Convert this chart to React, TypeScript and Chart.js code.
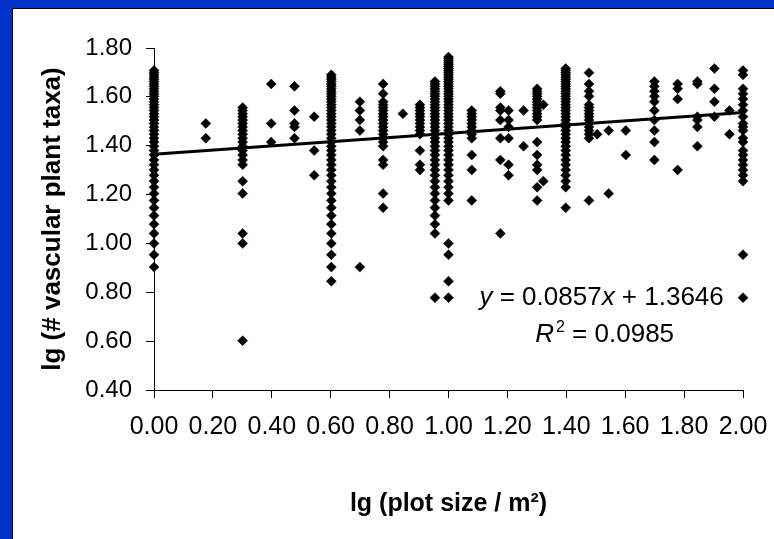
import React, { useEffect, useRef } from "react";
import { Chart, registerables } from "chart.js";

Chart.register(...registerables);

// lg(plot size / m²) of each sampled plot size (one column of points each)
const plotSizeLg = [
  0, 0.176, 0.301, 0.398, 0.477, 0.544, 0.602, 0.699, 0.778, 0.845,
  0.903, 0.954, 1.0, 1.079, 1.176, 1.204, 1.255, 1.301, 1.322, 1.398,
  1.477, 1.505, 1.544, 1.602, 1.699, 1.778, 1.845, 1.903, 1.954, 2.0,
];

// lg(# vascular plant taxa) values found in each column (same order as plotSizeLg)
const taxaLg = [
  [0.903, 0.954, 1.0, 1.041, 1.079, 1.114, 1.146, 1.176, 1.204, 1.23, 1.255, 1.279, 1.301, 1.322, 1.342, 1.362, 1.38, 1.398, 1.415, 1.431, 1.447, 1.462, 1.477, 1.491, 1.505, 1.519, 1.531, 1.544, 1.556, 1.568, 1.58, 1.591, 1.602, 1.613, 1.623, 1.633, 1.643, 1.653, 1.663, 1.672, 1.681, 1.69, 1.699, 1.708],
  [1.491, 1.431],
  [0.602, 1.0, 1.041, 1.204, 1.255, 1.322, 1.342, 1.362, 1.38, 1.398, 1.415, 1.431, 1.447, 1.462, 1.477, 1.491, 1.505, 1.519, 1.531, 1.544, 1.556],
  [1.653, 1.491, 1.415],
  [1.643, 1.544, 1.491, 1.477, 1.431],
  [1.519, 1.38, 1.279],
  [0.845, 0.903, 0.954, 1.0, 1.041, 1.079, 1.114, 1.146, 1.176, 1.204, 1.23, 1.255, 1.279, 1.301, 1.322, 1.342, 1.362, 1.38, 1.398, 1.415, 1.431, 1.447, 1.462, 1.477, 1.491, 1.505, 1.519, 1.531, 1.544, 1.556, 1.568, 1.58, 1.591, 1.602, 1.613, 1.623, 1.633, 1.643, 1.653, 1.663, 1.672, 1.681, 1.69],
  [1.58, 1.544, 1.505, 1.462, 0.903],
  [1.653, 1.613, 1.58, 1.568, 1.556, 1.544, 1.531, 1.519, 1.505, 1.491, 1.477, 1.462, 1.447, 1.431, 1.415, 1.398, 1.342, 1.322, 1.204, 1.146],
  [1.531],
  [1.568, 1.556, 1.544, 1.531, 1.519, 1.505, 1.491, 1.477, 1.462, 1.447, 1.38, 1.322, 1.301],
  [0.778, 1.041, 1.079, 1.114, 1.146, 1.176, 1.204, 1.23, 1.255, 1.279, 1.301, 1.322, 1.342, 1.362, 1.38, 1.398, 1.415, 1.431, 1.447, 1.462, 1.477, 1.491, 1.505, 1.519, 1.531, 1.544, 1.556, 1.568, 1.58, 1.591, 1.602, 1.613, 1.623, 1.633, 1.643, 1.653, 1.663],
  [0.778, 0.845, 0.954, 1.0, 1.176, 1.204, 1.23, 1.255, 1.279, 1.301, 1.322, 1.342, 1.362, 1.38, 1.398, 1.415, 1.431, 1.447, 1.462, 1.477, 1.491, 1.505, 1.519, 1.531, 1.544, 1.556, 1.568, 1.58, 1.591, 1.602, 1.613, 1.623, 1.633, 1.643, 1.653, 1.663, 1.672, 1.681, 1.69, 1.699, 1.708, 1.716, 1.724, 1.732, 1.74, 1.748, 1.756, 1.763],
  [1.544, 1.531, 1.519, 1.505, 1.491, 1.477, 1.462, 1.447, 1.431, 1.362, 1.301, 1.176],
  [1.623, 1.613, 1.556, 1.544, 1.505, 1.431, 1.342, 1.041],
  [1.544, 1.505, 1.477, 1.431, 1.322, 1.279],
  [1.544, 1.398],
  [1.633, 1.623, 1.613, 1.602, 1.591, 1.58, 1.568, 1.556, 1.544, 1.531, 1.519, 1.505, 1.415, 1.362, 1.322, 1.301, 1.23, 1.176],
  [1.568, 1.255],
  [1.146, 1.23, 1.255, 1.279, 1.301, 1.322, 1.342, 1.362, 1.38, 1.398, 1.415, 1.431, 1.447, 1.462, 1.477, 1.491, 1.505, 1.519, 1.531, 1.544, 1.556, 1.568, 1.58, 1.591, 1.602, 1.613, 1.623, 1.633, 1.643, 1.653, 1.663, 1.672, 1.681, 1.69, 1.699, 1.708, 1.716],
  [1.699, 1.653, 1.623, 1.602, 1.568, 1.556, 1.544, 1.531, 1.519, 1.505, 1.491, 1.477, 1.462, 1.447, 1.431, 1.176],
  [1.447],
  [1.462, 1.204],
  [1.462, 1.362],
  [1.663, 1.643, 1.623, 1.602, 1.58, 1.544, 1.505, 1.462, 1.415, 1.342],
  [1.653, 1.633, 1.591, 1.301],
  [1.663, 1.653, 1.519, 1.505, 1.477, 1.398],
  [1.716, 1.633, 1.58, 1.519],
  [1.544, 1.447],
  [1.708, 1.69, 1.633, 1.613, 1.591, 1.568, 1.544, 1.519, 1.491, 1.477, 1.462, 1.431, 1.415, 1.38, 1.362, 1.342, 1.322, 1.301, 1.279, 1.255, 0.954, 0.778],
];

// linear trend line (from the equation shown on the chart)
const trendX = [0, 2];
const trendY = [1.3646, 1.536];
const slopeText = "0.0857";
const interceptText = "1.3646";
const r2Text = "0.0985";

const xTitle = "lg (plot size / m²)";
const yTitle = "lg (# vascular plant taxa)";

const FONT = "Arial, 'Liberation Sans', Helvetica, sans-serif";

type Run = { t: string; it?: boolean; sup?: boolean };

function drawRuns(ctx: CanvasRenderingContext2D, cx: number, baseline: number, runs: Run[], size: number) {
  const fontFor = (r: Run) =>
    `${r.it ? "italic " : ""}${r.sup ? Math.round(size * 0.62) : size}px ${FONT}`;
  let total = 0;
  const widths = runs.map((r) => {
    ctx.font = fontFor(r);
    const w = ctx.measureText(r.t).width + (r.sup ? 2 : 0);
    total += w;
    return w;
  });
  let x = cx - total / 2;
  ctx.textAlign = "left";
  ctx.textBaseline = "alphabetic";
  ctx.fillStyle = "#000";
  runs.forEach((r, i) => {
    ctx.font = fontFor(r);
    ctx.fillText(r.t, r.sup ? x + 2 : x, r.sup ? baseline - size * 0.4 : baseline);
    x += widths[i];
  });
}

const equationPlugin = {
  id: "equationLabel",
  afterDatasetsDraw(chart: any) {
    const { ctx, chartArea: a } = chart;
    const w = a.right - a.left;
    const h = a.bottom - a.top;
    const cx = a.left + 0.76 * w;
    ctx.save();
    drawRuns(ctx, cx, a.top + 0.7515 * h, [
      { t: "y", it: true },
      { t: " = " + slopeText },
      { t: "x", it: true },
      { t: " + " + interceptText },
    ], 26);
    drawRuns(ctx, cx + 3, a.top + 0.8596 * h, [
      { t: "R", it: true },
      { t: "2", sup: true },
      { t: " = " + r2Text },
    ], 26);
    ctx.restore();
  },
};

export default function App() {
  const ref = useRef<HTMLCanvasElement>(null);

  useEffect(() => {
    const points: { x: number; y: number }[] = [];
    plotSizeLg.forEach((x, i) => {
      taxaLg[i].forEach((y) => points.push({ x, y }));
    });
    const trend = trendX.map((x, i) => ({ x, y: trendY[i] }));

    const chart = new Chart(ref.current as HTMLCanvasElement, {
      type: "scatter",
      data: {
        datasets: [
          {
            type: "scatter",
            data: points,
            pointStyle: "rectRot",
            pointRadius: 5,
            backgroundColor: "#000",
            borderColor: "#000",
            borderWidth: 0.5,
            clip: false,
            order: 2,
          } as any,
          {
            type: "line",
            data: trend,
            borderColor: "#000",
            borderWidth: 3,
            pointRadius: 0,
            fill: false,
            clip: false,
            order: 1,
          } as any,
        ],
      },
      options: {
        responsive: false,
        animation: false,
        devicePixelRatio: 1,
        events: [],
        layout: { padding: { left: 0, right: 31, top: 48, bottom: 0 } },
        plugins: {
          legend: { display: false },
          tooltip: { enabled: false },
        },
        scales: {
          x: {
            type: "linear",
            min: 0,
            max: 2,
            afterFit: (s: any) => {
              s.height = 149;
              s.paddingLeft = 0;
              s.paddingRight = 0;
            },
            ticks: {
              stepSize: 0.2,
              autoSkip: false,
              maxRotation: 0,
              padding: 14,
              color: "#000",
              font: { family: FONT, size: 25 },
              callback: (v: any) => Number(v).toFixed(2),
            },
            grid: {
              drawOnChartArea: false,
              drawTicks: true,
              tickLength: 8,
              color: "#000",
              lineWidth: 1,
            },
            border: { display: true, color: "#000", width: 1 },
            title: {
              display: true,
              text: xTitle,
              color: "#000",
              font: { family: FONT, size: 25, weight: "bold" },
              padding: { top: 0, bottom: 20 },
            },
          },
          y: {
            type: "linear",
            min: 0.4,
            max: 1.8,
            afterFit: (s: any) => {
              s.width = 154;
              s.paddingTop = 0;
              s.paddingBottom = 0;
            },
            ticks: {
              stepSize: 0.2,
              padding: 14,
              color: "#000",
              font: { family: FONT, size: 24 },
              callback: (v: any) => Number(v).toFixed(2),
            },
            grid: {
              drawOnChartArea: false,
              drawTicks: true,
              tickLength: 8,
              color: "#000",
              lineWidth: 1,
            },
            border: { display: true, color: "#000", width: 1 },
            title: {
              display: true,
              text: yTitle,
              color: "#000",
              font: { family: FONT, size: 26, weight: "bold" },
              padding: { top: 37, bottom: 0 },
            },
          },
        },
      } as any,
      plugins: [equationPlugin],
    });
    return () => chart.destroy();
  }, []);

  return (
    <div
      style={{
        position: "fixed",
        left: 0,
        top: 0,
        width: 774,
        height: 539,
        background: "#0033cc",
        overflow: "hidden",
      }}
    >
      <div
        style={{
          position: "absolute",
          left: 12,
          top: 8,
          right: 0,
          bottom: 0,
          background: "#fff",
          borderLeft: "1px solid #000",
          borderTop: "1px solid #000",
        }}
      />
      <canvas
        ref={ref}
        width={774}
        height={539}
        style={{ position: "absolute", left: 0, top: 0, width: 774, height: 539, display: "block" }}
      />
    </div>
  );
}
